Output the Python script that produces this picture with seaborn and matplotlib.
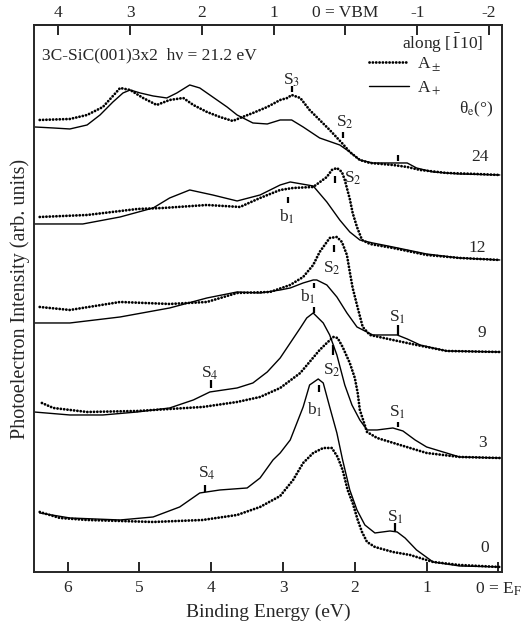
import numpy as np
import pandas as pd
import matplotlib
matplotlib.use("Agg")
import matplotlib.pyplot as plt
import seaborn as sns
from matplotlib.lines import Line2D

# ---------------- data (binding energy in eV, intensity in arb. units) -------------
angles = ["24", "12", "9", "3", "0"]
offsets = [39.7, 31.2, 22.0, 11.4, 0.5]
vbm_offset = 2.13  # VBM position on the binding-energy scale

# theta_e = 24
e24_dot = [6.39, 5.97, 5.73, 5.51, 5.37, 5.27, 5.13, 4.95, 4.76, 4.58, 4.39, 4.25, 4.06, 3.88,
           3.70, 3.60, 3.42, 3.22, 3.04, 2.94, 2.88, 2.76, 2.63, 2.49, 2.35, 2.18, 2.07, 1.93,
           1.79, 1.47, 1.27, 1.09, 0.72, 0.30, -0.02]
i24_dot = [5.5, 5.6, 6.0, 6.8, 7.9, 8.7, 8.5, 7.7, 7.0, 7.5, 7.7, 7.0, 6.3, 5.8,
           5.4, 5.7, 6.2, 6.8, 7.5, 7.7, 8.0, 7.7, 6.5, 5.5, 4.5, 3.2, 2.3, 1.5,
           1.2, 1.0, 0.8, 0.5, 0.2, 0.1, 0.0]
e24_sol = [6.46, 6.20, 5.97, 5.73, 5.55, 5.37, 5.23, 5.13, 4.99, 4.81, 4.62, 4.48, 4.30, 4.16,
           3.98, 3.78, 3.64, 3.42, 3.22, 3.04, 2.88, 2.72, 2.49, 2.21, 2.07, 1.93, 1.75, 1.51,
           1.27, 1.14, 0.91, 0.54, -0.02]
i24_sol = [4.8, 4.7, 4.6, 5.0, 6.0, 7.3, 8.2, 8.5, 8.2, 7.9, 7.7, 8.2, 9.0, 8.7,
           7.8, 6.8, 6.0, 5.2, 5.1, 5.5, 5.5, 4.8, 3.7, 3.0, 2.3, 1.5, 1.2, 1.2,
           1.2, 0.7, 0.3, 0.1, 0.0]

# theta_e = 12
e12_dot = [6.39, 5.73, 5.03, 4.67, 4.06, 3.60, 3.32, 3.04, 2.86, 2.58, 2.39, 2.32, 2.25, 2.18,
           2.14, 2.07, 2.03, 1.97, 1.90, 1.79, 1.47, 1.00, 0.54, -0.02]
i12_dot = [4.3, 4.5, 5.1, 5.2, 5.5, 5.3, 6.2, 7.0, 7.2, 7.3, 8.3, 9.0, 9.2, 8.8,
           8.0, 6.1, 4.7, 3.3, 2.0, 1.6, 1.2, 0.5, 0.2, 0.0]
e12_sol = [6.47, 5.79, 5.27, 4.81, 4.58, 4.30, 3.98, 3.64, 3.32, 3.04, 2.90, 2.58, 2.39, 2.21,
           2.07, 1.93, 1.75, 1.47, 1.00, 0.54, -0.02]
i12_sol = [3.6, 3.6, 4.3, 5.2, 6.2, 7.0, 6.5, 5.9, 6.5, 7.5, 7.8, 7.4, 5.8, 4.0,
           2.8, 2.0, 1.7, 1.3, 0.6, 0.2, 0.0]

# theta_e = 9
e9_dot = [6.39, 5.97, 5.27, 4.58, 4.06, 3.64, 3.18, 2.90, 2.72, 2.58, 2.49, 2.35, 2.25, 2.18,
          2.11, 2.07, 2.03, 1.97, 1.89, 1.79, 1.47, 1.14, 0.72, -0.02]
i9_dot = [4.5, 4.2, 5.0, 4.8, 5.0, 5.9, 6.0, 6.7, 7.5, 8.7, 10.0, 11.4, 11.5, 11.0,
          9.7, 8.0, 6.4, 4.7, 2.5, 1.7, 1.2, 0.7, 0.1, 0.0]
e9_sol = [6.47, 5.97, 5.27, 4.58, 4.06, 3.64, 3.32, 3.04, 2.90, 2.72, 2.58, 2.53, 2.39, 2.25,
          2.11, 1.97, 1.75, 1.41, 1.27, 1.09, 0.72, -0.02]
i9_sol = [2.9, 2.9, 3.5, 4.4, 5.4, 6.0, 5.9, 6.2, 6.4, 6.9, 7.2, 7.2, 6.7, 5.5,
          3.9, 2.5, 1.7, 1.7, 1.3, 0.7, 0.1, 0.0]

# theta_e = 3
e3_dot = [6.36, 6.20, 5.73, 5.03, 4.58, 4.12, 3.64, 3.32, 3.04, 2.76, 2.49, 2.39, 2.30, 2.24,
          2.17, 2.07, 2.00, 1.96, 1.93, 1.83, 1.69, 1.37, 1.00, 0.54, -0.02]
i3_dot = [5.5, 5.0, 4.6, 4.7, 4.9, 5.1, 5.6, 6.1, 7.0, 8.5, 10.8, 11.5, 12.1, 12.0,
          11.1, 9.5, 8.0, 6.5, 4.8, 2.6, 2.0, 1.3, 0.5, 0.1, 0.0]
e3_sol = [6.47, 5.97, 5.51, 5.03, 4.58, 4.25, 4.02, 3.64, 3.42, 3.22, 3.04, 2.90, 2.76, 2.67,
          2.58, 2.51, 2.44, 2.35, 2.25, 2.14, 2.04, 1.93, 1.83, 1.69, 1.47, 1.33, 1.16, 1.00,
          0.54, -0.02]
i3_sol = [4.6, 4.3, 4.3, 4.6, 5.0, 5.8, 6.6, 7.0, 7.5, 8.6, 10.0, 11.5, 13.0, 14.0,
          14.5, 14.0, 13.5, 12.3, 10.3, 7.3, 5.3, 3.8, 2.8, 2.8, 3.0, 2.7, 1.8, 1.1,
          0.1, 0.0]

# theta_e = 0
e0_dot = [6.39, 6.11, 5.73, 4.81, 4.12, 3.64, 3.32, 3.04, 2.86, 2.72, 2.58, 2.44, 2.32, 2.24,
          2.17, 2.10, 2.03, 1.96, 1.90, 1.83, 1.72, 1.47, 1.23, 0.91, 0.54, -0.02]
i0_dot = [5.5, 4.9, 4.7, 4.5, 4.7, 5.2, 6.0, 7.1, 8.7, 10.4, 11.4, 11.9, 11.9, 11.0,
          9.7, 7.7, 6.4, 4.7, 3.5, 2.5, 2.0, 1.5, 1.2, 0.5, 0.2, 0.0]
e0_sol = [6.39, 5.97, 5.27, 4.81, 4.44, 4.16, 3.88, 3.50, 3.32, 3.14, 3.04, 2.90, 2.72, 2.63,
          2.51, 2.44, 2.35, 2.25, 2.17, 2.07, 1.97, 1.86, 1.72, 1.51, 1.41, 1.30, 1.14, 0.91,
          0.54, -0.02]
i0_sol = [5.4, 4.9, 4.7, 5.0, 6.0, 7.4, 7.7, 7.9, 8.9, 10.7, 11.4, 12.7, 16.0, 18.2,
          18.8, 18.4, 16.0, 13.4, 10.7, 7.7, 5.7, 4.2, 3.4, 3.6, 3.5, 2.9, 1.7, 0.5,
          0.1, 0.0]

dot_energy = [e24_dot, e12_dot, e9_dot, e3_dot, e0_dot]
dot_int = [i24_dot, i12_dot, i9_dot, i3_dot, i0_dot]
sol_energy = [e24_sol, e12_sol, e9_sol, e3_sol, e0_sol]
sol_int = [i24_sol, i12_sol, i9_sol, i3_sol, i0_sol]

# feature labels: (text, text E, text y, tick E, tick y0, tick y1)
features = [
    ("S$_3$", 2.88, 49.2, 2.88, 48.6, 48.0),
    ("S$_2$", 2.14, 45.0, 2.17, 44.0, 43.4),
    ("", 0, 0, 1.40, 41.7, 41.1),
    ("b$_1$", 2.95, 35.5, 2.93, 37.5, 36.9),
    ("S$_2$", 2.02, 39.4, 2.28, 39.6, 38.9),
    ("S$_2$", 2.32, 30.4, 2.29, 32.7, 32.0),
    ("b$_1$", 2.65, 27.5, 2.57, 28.9, 28.4),
    ("", 0, 0, 2.57, 26.5, 25.9),
    ("S$_1$", 1.41, 25.5, 1.40, 24.7, 23.7),
    ("S$_4$", 4.02, 19.9, 4.00, 19.2, 18.4),
    ("S$_2$", 2.32, 20.2, 2.30, 22.7, 21.7),
    ("S$_1$", 1.40, 16.0, 1.40, 15.0, 14.5),
    ("S$_4$", 4.06, 9.9, 4.09, 8.7, 8.0),
    ("b$_1$", 2.56, 16.2, 2.50, 18.7, 18.0),
    ("S$_1$", 1.44, 5.5, 1.44, 4.9, 4.1),
]
angle_label_e = [0.26, 0.29, 0.23, 0.22, 0.19]
angle_label_y = [41.5, 32.4, 23.9, 12.9, 2.4]

bottom_ticks = [6, 5, 4, 3, 2, 1, 0]
bottom_labels = ["6", "5", "4", "3", "2", "1", "0 = E$_\\mathrm{F}$"]
top_ticks = [4, 3, 2, 1, 0, -1, -2]
top_labels = ["4", "3", "2", "1", "0 = VBM", "-1", "-2"]

# ---------------- plotting -------------
sns.set_theme(style="ticks")
plt.rcParams["font.family"] = ["Liberation Serif", "DejaVu Serif"]
plt.rcParams["mathtext.fontset"] = "stix"
plt.rcParams["axes.linewidth"] = 1.4

fig = plt.figure(figsize=(5.26, 6.26), dpi=100)
ax = fig.add_axes([0.0646, 0.0863, 0.8897, 0.8738])

FS = 12.5
dot_style = dict(color="black", lw=2.0, linestyle=(0, (0.05, 1.15)),
                 dash_capstyle="round", solid_capstyle="round")
sol_style = dict(color="black", lw=1.0)

for k, ang in enumerate(angles):
    dfd = pd.DataFrame({"E": dot_energy[k], "I": np.array(dot_int[k]) + offsets[k]})
    dfs = pd.DataFrame({"E": sol_energy[k], "I": np.array(sol_int[k]) + offsets[k]})
    sns.lineplot(data=dfs, x="E", y="I", ax=ax, estimator=None, sort=False, **sol_style)
    sns.lineplot(data=dfd, x="E", y="I", ax=ax, estimator=None, sort=False, **dot_style)
    ax.text(angle_label_e[k], angle_label_y[k], ang, ha="center", va="center", fontsize=FS)

for txt, te, ty, ke, k0, k1 in features:
    ax.plot([ke, ke], [k0, k1], color="black", lw=1.6, solid_capstyle="butt")
    if txt:
        ax.text(te, ty, txt, ha="center", va="center", fontsize=FS)

ax.set_xlim(6.47, -0.05)
ax.set_ylim(0, 54.7)
ax.set_yticks([])
ax.set_xticks(bottom_ticks, labels=bottom_labels)
ax.tick_params(axis="x", direction="in", length=7, width=1.4, pad=6, labelsize=FS)
ax.set_xlabel("Binding Energy (eV)", fontsize=14, labelpad=4)
ax.set_ylabel("Photoelectron Intensity (arb. units)", fontsize=14.5, labelpad=3)

secax = ax.secondary_xaxis("top", functions=(lambda e: e - vbm_offset, lambda v: v + vbm_offset))
secax.set_xticks(top_ticks, labels=top_labels)
secax.tick_params(direction="in", length=7, width=1.4, pad=3, labelsize=FS)

ax.text(0.018, 0.945, "3C-SiC(001)3x2  h\u03bd = 21.2 eV", transform=ax.transAxes,
        ha="left", va="center", fontsize=FS)
ax.text(0.873, 0.967, "along [$\\bar{1}$10]", transform=ax.transAxes,
        ha="center", va="center", fontsize=FS)
ax.text(0.945, 0.845, "\u03b8$_\\mathrm{e}$(\u00b0)", transform=ax.transAxes,
        ha="center", va="center", fontsize=FS)

handles = [Line2D([], [], **dot_style), Line2D([], [], **sol_style)]
leg = ax.legend(handles, ["A$_\\pm$", "A$_+$"], loc="upper left",
                bbox_to_anchor=(0.715, 0.945), frameon=False, fontsize=FS,
                handlelength=2.3, handletextpad=0.5, labelspacing=0.35,
                borderpad=0, borderaxespad=0)

fig.savefig("out.png", dpi=100)
